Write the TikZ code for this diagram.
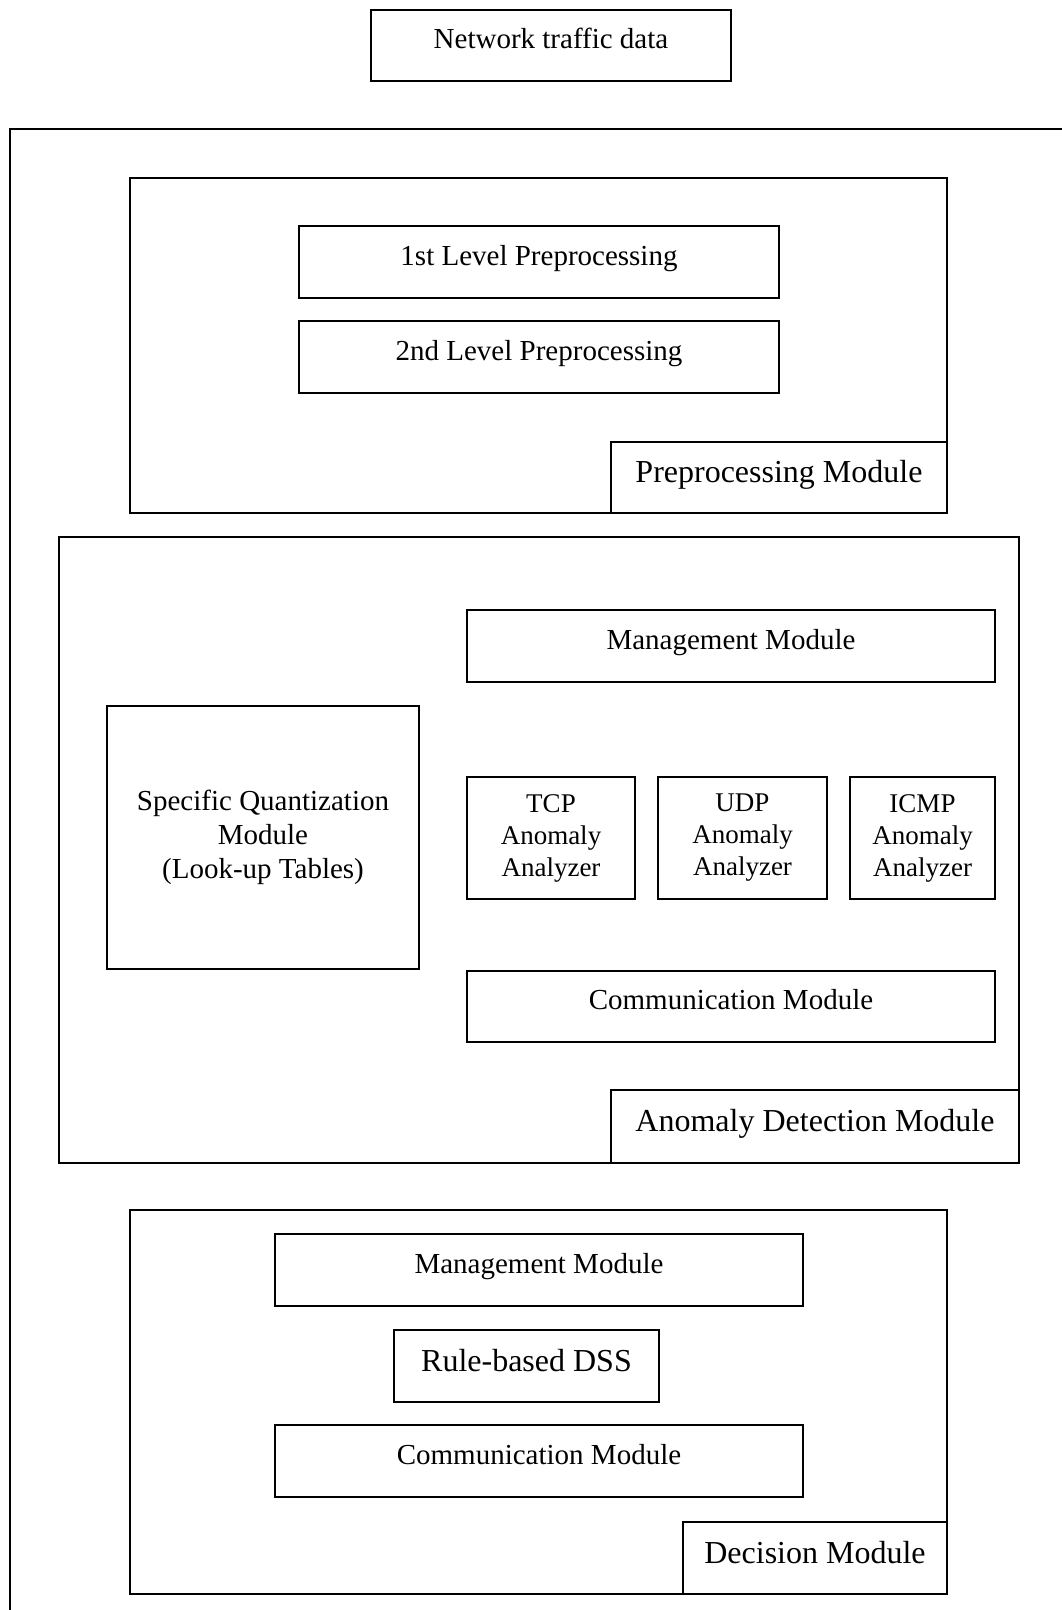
\documentclass[tikz,border=0pt]{standalone}
\usepackage{fontspec}
\setmainfont{Liberation Serif}
\begin{document}
\begin{tikzpicture}[x=1pt,y=-1pt,
  mbox/.style={draw, line width=1.4pt, inner sep=0pt, align=center, font=\fontsize{29}{34}\selectfont},
  sbox/.style={mbox, text height=20pt, text depth=14pt},
  lbox/.style={draw, line width=1.4pt, inner sep=0pt, fill=white, font=\fontsize{32}{36}\selectfont, text height=22pt, text depth=12pt},
  abox/.style={mbox, font=\fontsize{27}{32}\selectfont}]
\useasboundingbox (0,0) rectangle (1062,1610);
\fill[white] (0,0) rectangle (1062,1610);
% input
\node[sbox, minimum width=360pt, minimum height=71pt] (net) at (551,45.5) {Network traffic data};
% outer frame (open to right and bottom)
\coordinate (obl) at (10,1610);
\coordinate (otl) at (10,129);
\coordinate (otr) at (1062,129);
\draw[line width=1.4pt] (obl) -- (otl) -- (otr);
% preprocessing module
\node[mbox, minimum width=817pt, minimum height=335pt] (pre) at (538.5,345.5) {};
\node[sbox, minimum width=480pt, minimum height=72pt] (l1) at (539,262) {1st Level Preprocessing};
\node[sbox, minimum width=480pt, minimum height=72pt] (l2) at (539,357) {2nd Level Preprocessing};
\node[lbox, minimum width=336pt, minimum height=71pt] (prelab) at (779,477.5) {Preprocessing Module};
% anomaly detection module
\node[mbox, minimum width=960pt, minimum height=626pt] (adm) at (539,850) {};
\node[sbox, minimum width=528pt, minimum height=72pt] (amg) at (731,646) {Management Module};
\node[mbox, minimum width=312pt, minimum height=263pt] (sq) at (263,837.5) {Specific Quantization\\Module\\ (Look-up Tables)};
\node[abox, minimum width=168pt, minimum height=122pt] (tcp) at (551,838) {TCP\\Anomaly\\Analyzer};
\node[abox, minimum width=169pt, minimum height=122pt] (udp) at (742.5,838) {UDP\\Anomaly\\Analyzer};
\node[abox, minimum width=145pt, minimum height=122pt] (icmp) at (922.5,838) {ICMP\\Anomaly\\Analyzer};
\node[sbox, minimum width=528pt, minimum height=71pt] (acm) at (731,1006.5) {Communication Module};
\node[lbox, minimum width=408pt, minimum height=73pt] (admlab) at (815,1126.5) {Anomaly Detection Module};
% decision module
\node[mbox, minimum width=817pt, minimum height=384pt] (dec) at (538.5,1402) {};
\node[sbox, minimum width=528pt, minimum height=72pt] (dmg) at (539,1270) {Management Module};
\node[lbox, minimum width=265pt, minimum height=72pt] (dss) at (526.5,1366) {Rule-based DSS};
\node[sbox, minimum width=528pt, minimum height=72pt] (dcm) at (539,1461) {Communication Module};
\node[lbox, minimum width=264pt, minimum height=72pt] (declab) at (815,1558) {Decision Module};
\end{tikzpicture}
\end{document}
